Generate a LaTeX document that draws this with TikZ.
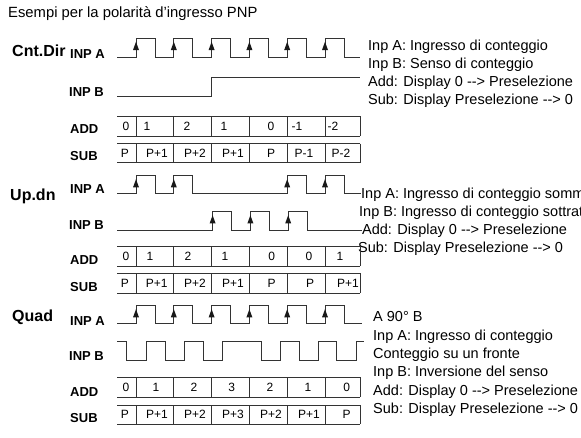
\documentclass[tikz,border=0pt]{standalone}
\usepackage{fontspec}
\setmainfont{Liberation Sans}
\begin{document}
\begin{tikzpicture}[x=1pt,y=-1pt,
  wave/.style={draw=black!80, line width=0.8pt},
  tick/.style={fill=black!90},
  sect/.style={font=\fontsize{16}{16}\bfseries\selectfont, anchor=west, inner sep=0pt, text height=11.5pt, text depth=0pt},
  lbl/.style={font=\fontsize{13}{13}\bfseries\selectfont, anchor=west, inner sep=0pt, text height=9.3pt, text depth=0pt},
  note/.style={font=\fontsize{14.5}{14.5}\selectfont, anchor=west, inner sep=0pt, text height=10.4pt, text depth=0pt},
  cell/.style={font=\fontsize{12}{12}\selectfont, inner sep=0pt, text height=8.6pt, text depth=0pt}]
\path[use as bounding box, clip] (0,0) rectangle (581,437);

% title
\node[note, font=\fontsize{14.8}{14.8}\selectfont] (title) at (8,12) {Esempi per la polarità d'ingresso PNP};

% ================= Section 1: Cnt.Dir =================
\node[sect] (s1name) at (12,50.7) {Cnt.Dir};
\node[lbl] (s1a) at (70,54) {INP A};
\node[lbl] (s1b) at (69,91.7) {INP B};
\node[lbl] (s1add) at (70,129.3) {ADD};
\node[lbl] (s1sub) at (70,156) {SUB};
\draw[wave] (117,57) foreach \r in {136,173.8,211.6,249.4,287.2,325} { -- (\r,57) -- (\r,38.3) -- (\r+19,38.3) -- (\r+19,57) } -- (360,57);
\foreach \r in {136,173.8,211.6,249.4,287.2,325} \fill[tick] (\r,41.8) -- (\r-3,50) -- (\r+3,50) -- cycle;
\draw[wave] (117,96) -- (211.6,96) -- (211.6,77) -- (360,77);
\draw[wave] (117,116) -- (360,116) (117,136) -- (360,136);
\draw[wave] (117,143.5) -- (360,143.5) (117,162.5) -- (360,162.5);
\foreach \r in {136,173.8,211.6,249.4,287.2,325,360} \draw[wave] (\r,116) -- (\r,136) (\r,143.5) -- (\r,162.5);
\foreach \x/\t [count=\i] in {126/0,147/1,187/2,224/1,271/0,297/-1,333/-2}
  \node[cell] (s1add\i) at (\x,126) {\t};
\foreach \x/\t [count=\i] in {125/P,157/P+1,195/P+2,233/P+1,271/P,304/P-1,341/P-2}
  \node[cell] (s1sub\i) at (\x,153) {\t};
\node[note] (s1n1) at (368,45.5) {Inp A: Ingresso di conteggio};
\node[note] (s1n2) at (368,63.5) {Inp B: Senso di conteggio};
\node[note] (s1n3) at (368,81.5) {Add: Display 0 -{}-{}> Preselezione};
\node[note] (s1n4) at (368,99.5) {Sub: Display Preselezione -{}-{}> 0};

% ================= Section 2: Up.dn =================
\node[sect] (s2name) at (10,195) {Up.dn};
\node[lbl] (s2a) at (70,189.3) {INP A};
\node[lbl] (s2b) at (69,225) {INP B};
\node[lbl] (s2add) at (70,260) {ADD};
\node[lbl] (s2sub) at (70,286.7) {SUB};
\node[note] (s2n1) at (361,193) {Inp A: Ingresso di conteggio sommatore};
\node[note] (s2n2) at (359,211) {Inp B: Ingresso di conteggio sottrattore};
\node[note] (s2n3) at (362,229) {Add: Display 0 -{}-{}> Preselezione};
\node[note] (s2n4) at (358,247) {Sub: Display Preselezione -{}-{}> 0};
\draw[wave] (117,193.3) foreach \r in {136,173.8,287.2,325} { -- (\r,193.3) -- (\r,175.7) -- (\r+19,175.7) -- (\r+19,193.3) } -- (s2n1.west |- 0,193.3);
\foreach \r in {136,173.8,287.2,325} \fill[tick] (\r,179.2) -- (\r-3,187.4) -- (\r+3,187.4) -- cycle;
\draw[wave] (117,230) foreach \r in {212.6,250.4,288.2} { -- (\r,230) -- (\r,211.7) -- (\r+19,211.7) -- (\r+19,230) } -- (s2n3.west |- 0,230);
\foreach \r in {212.6,250.4,288.2} \fill[tick] (\r,215.2) -- (\r-3,223.4) -- (\r+3,223.4) -- cycle;
\draw[wave] (117,246) -- (360,246) (117,266) -- (360,266);
\draw[wave] (117,273.3) -- (360,273.3) (117,293.3) -- (360,293.3);
\foreach \r in {136,173.8,211.6,249.4,287.2,325,360} \draw[wave] (\r,246) -- (\r,266) (\r,273.3) -- (\r,293.3);
\foreach \x/\t [count=\i] in {126/0,150/1,188/2,225/1,271.7/0,309/0,340/1}
  \node[cell] (s2add\i) at (\x,256) {\t};
\foreach \x/\t [count=\i] in {125/P,156.7/P+1,195/P+2,233/P+1,271.7/P,310/P,348/P+1}
  \node[cell] (s2sub\i) at (\x,283.3) {\t};

% ================= Section 3: Quad =================
\node[sect] (s3name) at (12,316) {Quad};
\node[lbl] (s3a) at (70,320.7) {INP A};
\node[lbl] (s3b) at (69,356) {INP B};
\node[lbl] (s3add) at (70,391.7) {ADD};
\node[lbl] (s3sub) at (70,418.3) {SUB};
\draw[wave] (117,323.3) foreach \r in {136,173.8,211.6,249.4,287.2,325} { -- (\r,323.3) -- (\r,305.7) -- (\r+19,305.7) -- (\r+19,323.3) } -- (362,323.3);
\foreach \r in {136,173.8,211.6,249.4,287.2,325} \fill[tick] (\r,309.2) -- (\r-3,317.4) -- (\r+3,317.4) -- cycle;
\draw[wave] (117,341.7) -- (126,341.7) -- (126,360) -- (146.5,360) -- (146.5,341.7) -- (165,341.7) -- (165,360)
  -- (184.5,360) -- (184.5,341.7) -- (203,341.7) -- (203,360) -- (222.5,360) -- (222.5,341.7)
  -- (261,341.7) -- (261,360) -- (280,360) -- (280,341.7) -- (299,341.7) -- (299,360)
  -- (318,360) -- (318,341.7) -- (336.5,341.7) -- (336.5,360) -- (356,360) -- (356,341.7) -- (364,341.7);
\draw[wave] (117,377.3) -- (360,377.3) (117,397.3) -- (360,397.3);
\draw[wave] (117,405) -- (360,405) (117,424) -- (360,424);
\foreach \r in {136,173.8,211.6,249.4,287.2,325,360} \draw[wave] (\r,377.3) -- (\r,397.3) (\r,405) -- (\r,424);
\foreach \x/\t [count=\i] in {126/0,156/1,194/2,231.7/3,270/2,308/1,346.7/0}
  \node[cell] (s3add\i) at (\x,387.3) {\t};
\foreach \x/\t [count=\i] in {125/P,157/P+1,195/P+2,233/P+3,271/P+2,309/P+1,346.7/P}
  \node[cell] (s3sub\i) at (\x,414.5) {\t};
\node[note] (s3n1) at (373,316.5) {A 90° B};
\node[note] (s3n2) at (373,334.9) {Inp A: Ingresso di conteggio};
\node[note] (s3n3) at (373,353.2) {Conteggio su un fronte};
\node[note] (s3n4) at (373,371.6) {Inp B: Inversione del senso};
\node[note] (s3n5) at (373,389.9) {Add: Display 0 -{}-{}> Preselezione};
\node[note] (s3n6) at (373,408.3) {Sub: Display Preselezione -{}-{}> 0};
\end{tikzpicture}
\end{document}
